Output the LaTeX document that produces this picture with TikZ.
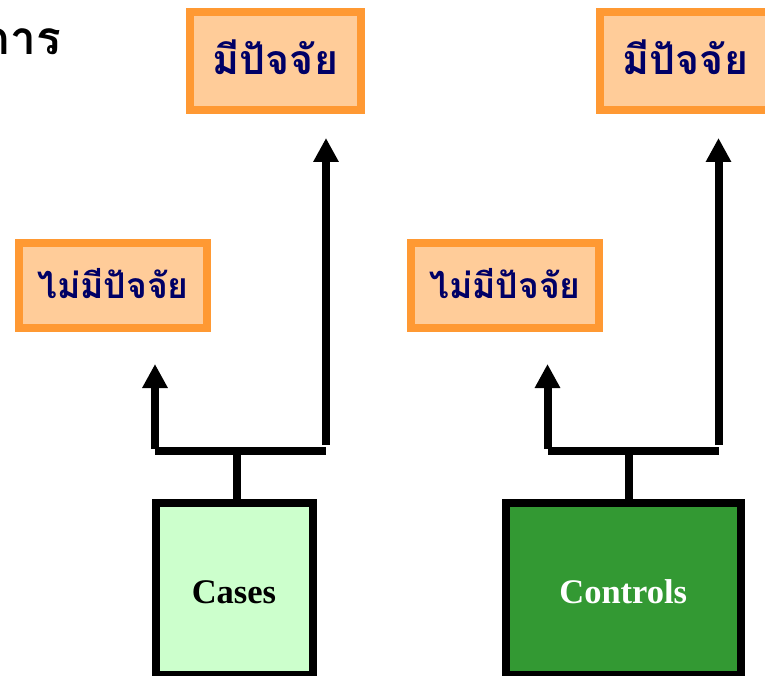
\documentclass[tikz,border=0pt]{standalone}
\usepackage{fontspec}
\setmainfont{Liberation Serif}
\newfontfamily\thaifont[Script=Thai]{Loma}
\usetikzlibrary{arrows.meta}

\definecolor{boxorange}{HTML}{FF9933}
\definecolor{boxpeach}{HTML}{FFCC99}
\definecolor{textnavy}{HTML}{000066}
\definecolor{casegreen}{HTML}{CCFFCC}
\definecolor{ctrlgreen}{HTML}{339933}

\begin{document}
\begin{tikzpicture}[x=1pt,y=-1pt,
  factor/.style={draw=boxorange,fill=boxpeach,line width=8pt,inner sep=0pt,
    text=textnavy,font=\thaifont\bfseries\fontsize{41}{41}\selectfont},
  topfactor/.style={factor,minimum width=171pt,minimum height=98pt,
    text height=28pt,text depth=0pt},
  midfactor/.style={factor,minimum width=188pt,minimum height=85pt,
    text height=25pt,text depth=0pt,
    font=\thaifont\bfseries\fontsize{35.5}{35.5}\selectfont},
  group/.style={draw=black,line width=8pt,inner sep=0pt,minimum height=172pt,
    text height=28pt,text depth=0pt,
    font=\bfseries\fontsize{34.5}{34.5}\selectfont},
  link/.style={draw=black,line width=8pt},
  uparrow/.style={link,-{Triangle[width=24pt,length=24pt]}}]
\useasboundingbox (0,0) rectangle (765,676);

% heading fragment in the top left corner
\node[anchor=base east,inner sep=0pt,
  font=\thaifont\bfseries\fontsize{46}{46}\selectfont] (title) at (61,55) {การ};

% exposure boxes
\node[topfactor] (yesA) at (275.5,61) {มีปัจจัย};
\node[topfactor] (yesB) at (685.5,61) {มีปัจจัย};
\node[midfactor] (noA) at (113,285.5) {ไม่มีปัจจัย};
\node[midfactor] (noB) at (505,285.5) {ไม่มีปัจจัย};

% study groups
\node[group,fill=casegreen,minimum width=157pt] (cases) at (234,589) {Cases};
\node[group,fill=ctrlgreen,text=white,minimum width=235.5pt] (controls) at (623.25,589) {Controls};

% branching connectors: cases
\coordinate (caL) at (155,449);
\coordinate (caR) at (326,445);
\coordinate (caBL) at (155,451);
\coordinate (caBR) at (326,451);
\coordinate (caS) at (236.5,451);
\coordinate (caTipL) at (155,364);
\coordinate (caTipR) at (326,138);
\draw[link] (caS) -- (caS |- cases.north);
\draw[link] (caBL) -- (caBR);
\draw[uparrow] (caL) -- (caTipL);
\draw[uparrow] (caR) -- (caTipR);

% branching connectors: controls
\coordinate (coL) at (547.5,449);
\coordinate (coR) at (718.5,445);
\coordinate (coBL) at (547.5,451);
\coordinate (coBR) at (718.5,451);
\coordinate (coS) at (628.5,451);
\coordinate (coTipL) at (547.5,364);
\coordinate (coTipR) at (718.5,138);
\draw[link] (coS) -- (coS |- controls.north);
\draw[link] (coBL) -- (coBR);
\draw[uparrow] (coL) -- (coTipL);
\draw[uparrow] (coR) -- (coTipR);
\end{tikzpicture}
\end{document}
